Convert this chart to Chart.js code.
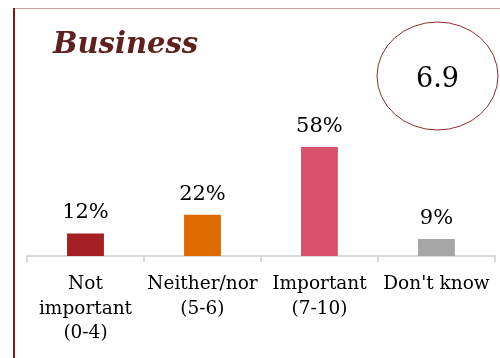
<!DOCTYPE html>
<html>
<head>
<meta charset="utf-8">
<script src="https://cdn.jsdelivr.net/npm/chart.js@4/dist/chart.umd.min.js"></script>
<style>
  html, body { margin: 0; padding: 0; background: #ffffff; }
  #wrap { width: 500px; height: 358px; }
</style>
</head>
<body>
<div id="wrap"><canvas id="chart" width="500" height="358"></canvas></div>
<script>
// Survey answers: how important the topic is for business
const heading = 'Business';
const categories = [
  ['Not', 'important', '(0-4)'],
  ['Neither/nor', '(5-6)'],
  ['Important', '(7-10)'],
  ["Don't know"]
];
const shares = [12, 22, 58, 9];          // percent of respondents
const barColors = ['#a31f23', '#dd6b00', '#d9516a', '#a6a6a6'];
const meanScore = '6.9';                  // average score on the 0-10 scale

const serif = "'DejaVu Serif', Georgia, serif";

// Frame lines on the left and top edge of the panel
const framePlugin = {
  id: 'frame',
  beforeDraw(chart) {
    const ctx = chart.ctx;
    ctx.save();
    ctx.strokeStyle = '#c9a3a3';
    ctx.lineWidth = 1;
    ctx.beginPath();
    ctx.moveTo(14, 8.5);
    ctx.lineTo(chart.width, 8.5);
    ctx.stroke();
    ctx.strokeStyle = '#7d1c1c';
    ctx.lineWidth = 2;
    ctx.beginPath();
    ctx.moveTo(14, 8);
    ctx.lineTo(14, chart.height);
    ctx.stroke();
    ctx.restore();
  }
};

// Heading text and the circled mean score
const headingPlugin = {
  id: 'heading',
  afterDraw(chart) {
    const ctx = chart.ctx;
    ctx.save();
    ctx.fillStyle = '#5e211d';
    ctx.font = "italic bold 29px " + serif;
    ctx.textAlign = 'left';
    ctx.textBaseline = 'alphabetic';
    ctx.fillText(heading, 53, 53);

    ctx.strokeStyle = '#8e2b2b';
    ctx.lineWidth = 1;
    ctx.beginPath();
    ctx.ellipse(437.5, 76, 60.5, 54, 0, 0, Math.PI * 2);
    ctx.stroke();

    ctx.fillStyle = '#000000';
    ctx.font = "27px " + serif;
    ctx.textAlign = 'center';
    ctx.fillText(meanScore, 437.5, 87);
    ctx.restore();
  }
};

// Percentage labels above each bar
const valueLabelPlugin = {
  id: 'valueLabels',
  afterDatasetsDraw(chart) {
    const ctx = chart.ctx;
    const meta = chart.getDatasetMeta(0);
    ctx.save();
    ctx.fillStyle = '#000000';
    ctx.font = "21px " + serif;
    ctx.textAlign = 'center';
    ctx.textBaseline = 'alphabetic';
    meta.data.forEach((bar, i) => {
      ctx.fillText(shares[i] + '%', bar.x, bar.y - 15);
    });
    ctx.restore();
  }
};

new Chart(document.getElementById('chart'), {
  type: 'bar',
  data: {
    labels: categories,
    datasets: [{
      data: shares,
      backgroundColor: barColors,
      borderWidth: 0,
      categoryPercentage: 1,
      barPercentage: 0.315
    }]
  },
  options: {
    responsive: false,
    animation: false,
    devicePixelRatio: 1,
    layout: { padding: { left: 27, right: 3, top: 68, bottom: 0 } },
    plugins: {
      legend: { display: false },
      title: { display: false },
      tooltip: { enabled: false }
    },
    scales: {
      x: {
        grid: {
          display: true,
          drawOnChartArea: false,
          drawTicks: true,
          tickLength: 6,
          color: '#d9d9d9',
          lineWidth: 2,
          offset: true
        },
        border: { display: true, color: '#d9d9d9', width: 2 },
        ticks: {
          color: '#000000',
          font: { family: serif, size: 18.5, lineHeight: 1.33 },
          padding: 10,
          maxRotation: 0,
          autoSkip: false
        },
        afterFit(scale) { scale.height = 102; }
      },
      y: {
        display: false,
        min: 0,
        max: 100
      }
    }
  },
  plugins: [framePlugin, headingPlugin, valueLabelPlugin]
});
</script>
</body>
</html>
